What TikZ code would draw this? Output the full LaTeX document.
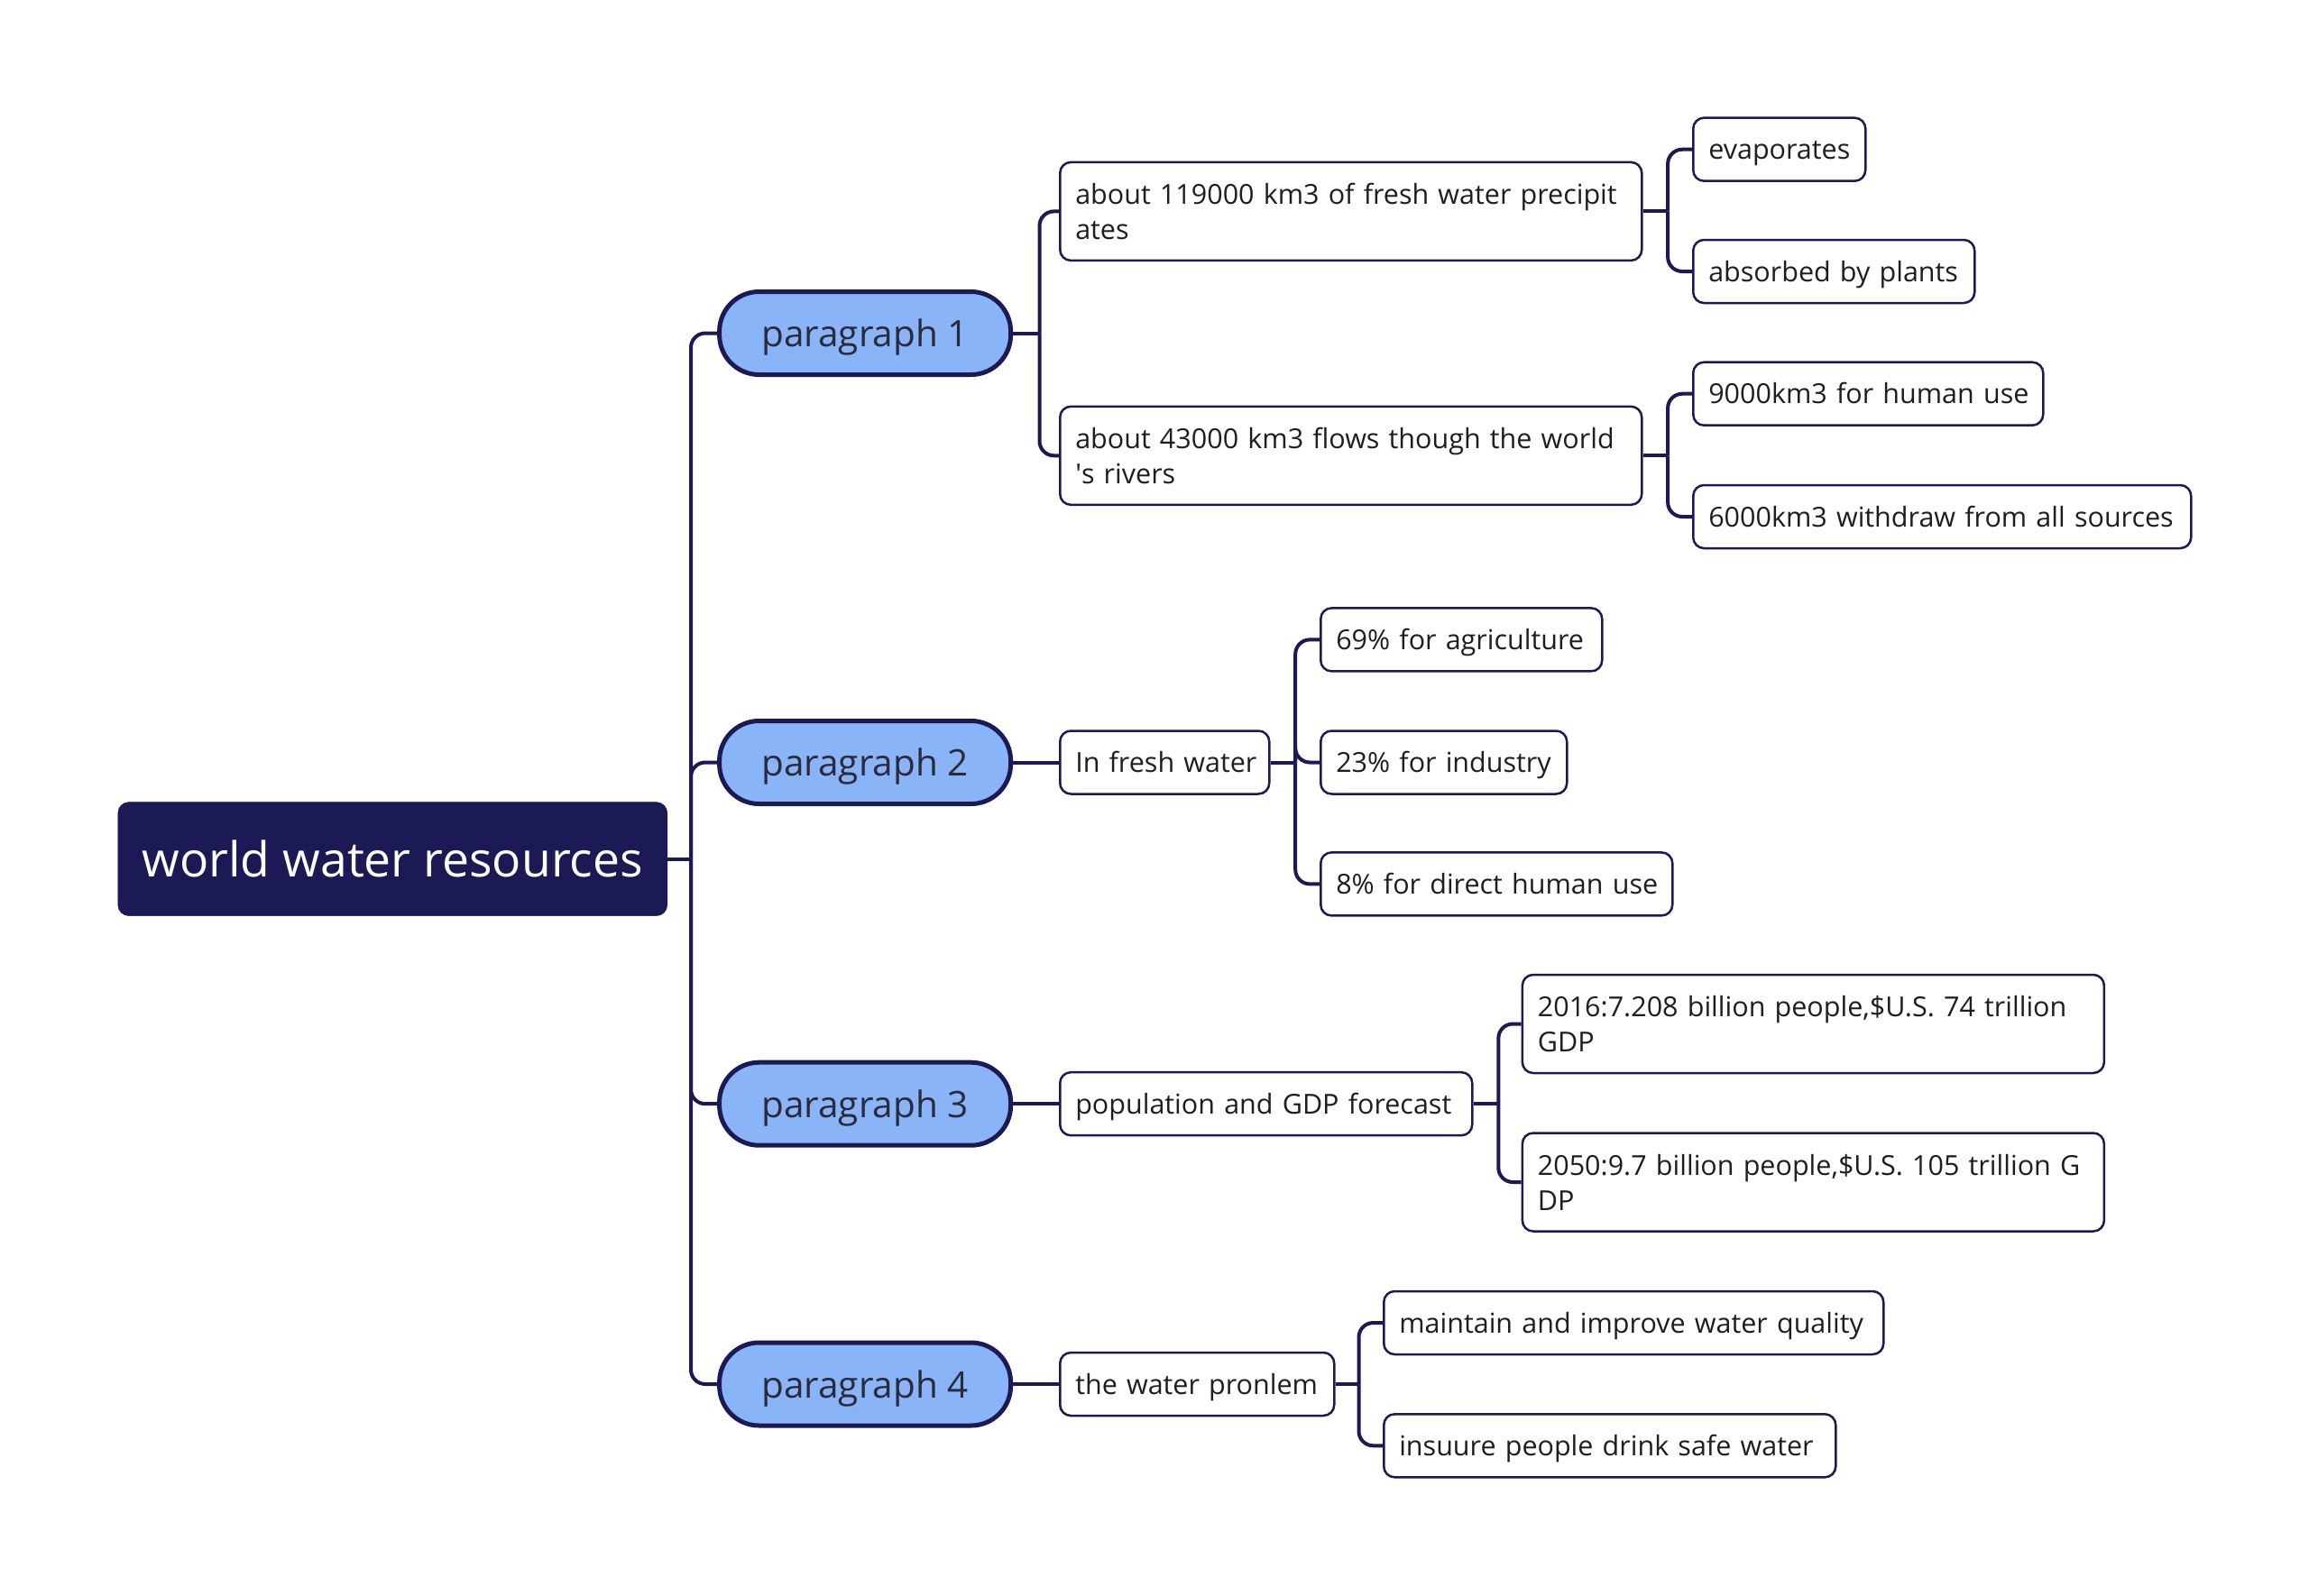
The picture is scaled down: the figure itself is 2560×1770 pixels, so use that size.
\documentclass[tikz,border=0pt]{standalone}
\usepackage{fontspec}
\setmainfont{Open Sans}
\definecolor{navy}{HTML}{1B1A55}
\definecolor{pillblue}{HTML}{8AB4F8}
\definecolor{txt}{HTML}{1E1E1E}
\definecolor{pilltxt}{HTML}{2A2A3A}
\begin{document}
\begin{tikzpicture}[x=1pt,y=-1pt,
  conn/.style={draw=navy, line width=4, rounded corners=16},
  rootbox/.style={anchor=west, fill=navy, draw=navy, text=white, rounded corners=12,
    minimum width=609, minimum height=126, inner sep=0,
    font=\fontsize{53.5}{60}\selectfont},
  pill/.style={anchor=west, fill=pillblue, draw=navy, line width=5, text=pilltxt,
    rounded corners=44, minimum width=323, minimum height=92, inner sep=0,
    text height=40, text depth=10,
    font=\fontsize{40.5}{48}\selectfont},
  tbox/.style={anchor=west, fill=white, draw=navy, line width=2.5, text=txt,
    rounded corners=12, inner xsep=17, inner ysep=0, align=left,
    minimum height=70, font=\fontsize{30.5}{39}\selectfont},
  one/.style={text height=29, text depth=7},
  tall/.style={minimum height=109}
]
\useasboundingbox[fill=white] (0,0) rectangle (2560,1770);

% root
\node[rootbox] (root) at (130.6,952.6) {world water resources};

% level 1
\node[pill] (p1) at (795.1,369.5) {paragraph 1};
\node[pill] (p2) at (795.1,845.5) {paragraph 2};
\node[pill] (p3) at (795.1,1224.2) {paragraph 3};
\node[pill] (p4) at (795.1,1535) {paragraph 4};

% level 2
\node[tbox,tall,text width=611] (a1) at (1174,234.4) {about 119000 km3 of fresh water precipit\\ates};
\node[tbox,tall,text width=611] (a2) at (1174,505.3) {about 43000 km3 flows though the world\\\textquotesingle s rivers};
\node[tbox,one,text width=198] (b) at (1174,845.5) {\mbox{In fresh water}};
\node[tbox,one,text width=423] (c) at (1174,1224.2) {\mbox{population and GDP forecast}};
\node[tbox,one,text width=270] (d) at (1174,1535) {\mbox{the water pronlem}};

% level 3
\node[tbox,one,text width=157] (a11) at (1876,165.7) {\mbox{evaporates}};
\node[tbox,one,text width=278] (a12) at (1876,301) {\mbox{absorbed by plants}};
\node[tbox,one,text width=354] (a21) at (1876,436.7) {\mbox{9000km3 for human use}};
\node[tbox,one,text width=518] (a22) at (1876,573) {\mbox{6000km3 withdraw from all sources}};
\node[tbox,one,text width=278] (b1) at (1463,709.4) {\mbox{69\% for agriculture}};
\node[tbox,one,text width=239] (b2) at (1463,845.5) {\mbox{23\% for industry}};
\node[tbox,one,text width=356] (b3) at (1463,980.4) {\mbox{8\% for direct human use}};
\node[tbox,tall,text width=611] (c1) at (1686.6,1135.5) {2016:7.208 billion people,\$U.S. 74 trillion\\GDP};
\node[tbox,tall,text width=611] (c2) at (1686.6,1311) {2050:9.7 billion people,\$U.S. 105 trillion G\\DP};
\node[tbox,one,text width=520] (d1) at (1533,1467) {\mbox{maintain and improve water quality}};
\node[tbox,one,text width=467] (d2) at (1533,1603.3) {\mbox{insuure people drink safe water}};

% junctions
\coordinate (j0) at ([xshift=26]root.east);
\coordinate (j1) at ([xshift=29.4]p1.east);
\coordinate (ja1) at ([xshift=27.6]a1.east);
\coordinate (ja2) at ([xshift=27.6]a2.east);
\coordinate (jb) at ([xshift=27.7]b.east);
\coordinate (jc) at ([xshift=27.8]c.east);
\coordinate (jd) at ([xshift=26]d.east);

\draw[conn] (root.east) -- (j0);
\foreach \n in {p1,p2,p3,p4} \draw[conn] (j0) |- (\n.west);

\draw[conn] (p1.east) -- (j1);
\foreach \n in {a1,a2} \draw[conn] (j1) |- (\n.west);
\draw[conn] (p2.east) -- (b.west);
\draw[conn] (p3.east) -- (c.west);
\draw[conn] (p4.east) -- (d.west);

\draw[conn] (a1.east) -- (ja1);
\foreach \n in {a11,a12} \draw[conn] (ja1) |- (\n.west);
\draw[conn] (a2.east) -- (ja2);
\foreach \n in {a21,a22} \draw[conn] (ja2) |- (\n.west);
\draw[conn] (b.east) -- (jb);
\foreach \n in {b1,b2,b3} \draw[conn] (jb) |- (\n.west);
\draw[conn] (c.east) -- (jc);
\foreach \n in {c1,c2} \draw[conn] (jc) |- (\n.west);
\draw[conn] (d.east) -- (jd);
\foreach \n in {d1,d2} \draw[conn] (jd) |- (\n.west);
\end{tikzpicture}
\end{document}
